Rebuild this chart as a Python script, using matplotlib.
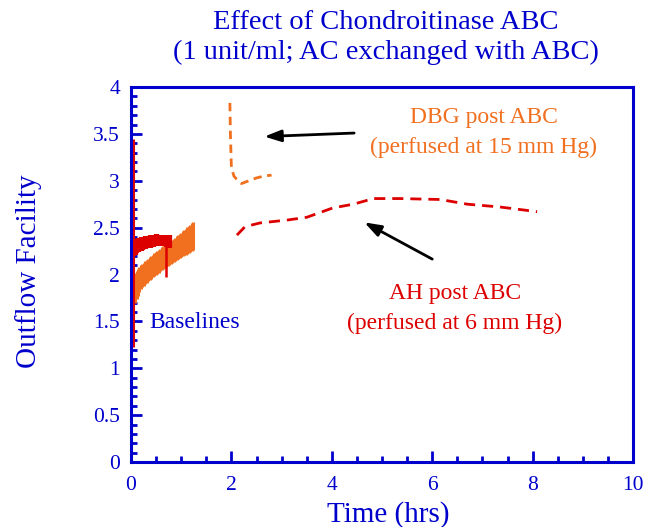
import matplotlib.pyplot as plt
import numpy as np

plt.rcParams['font.family'] = ['Liberation Serif', 'DejaVu Serif']

blue = '#0000cc'
orange = '#f07020'
red = '#dd0000'

# baseline bands (lower / upper edge of the scatter)
orange_base_t = [0.08, 0.2, 0.35, 0.5, 0.71, 0.9, 1.05, 1.24]
orange_base_lo = [1.70, 1.85, 1.93, 2.0, 2.08, 2.15, 2.2, 2.26]
orange_base_hi = [2.02, 2.1, 2.17, 2.24, 2.33, 2.4, 2.47, 2.56]

red_base_t = [0.08, 0.2, 0.35, 0.5, 0.65, 0.8]
red_base_lo = [2.2, 2.25, 2.28, 2.3, 2.3, 2.28]
red_base_hi = [2.38, 2.4, 2.42, 2.43, 2.42, 2.42]

# DBG post ABC
dbg_t = [1.97, 1.98, 2.0, 2.05, 2.13, 2.2, 2.35, 2.5, 2.65, 2.8]
dbg_v = [3.83, 3.5, 3.14, 3.05, 3.0, 2.97, 3.0, 3.03, 3.05, 3.06]

# AH post ABC
ah_t = [2.11, 2.27, 2.57, 3.1, 3.5, 4.02, 4.43, 4.83, 5.36, 6.16, 6.7, 7.35, 8.09]
ah_v = [2.42, 2.51, 2.55, 2.58, 2.61, 2.71, 2.75, 2.81, 2.81, 2.80, 2.75, 2.72, 2.67]

fig = plt.figure(figsize=(6.56, 5.27), dpi=100)
ax = fig.add_axes([131 / 656, 65 / 527, 502 / 656, 375 / 527])

# baselines
ot = np.linspace(orange_base_t[0], orange_base_t[-1], 40)
ax.vlines(ot, np.interp(ot, orange_base_t, orange_base_lo),
          np.interp(ot, orange_base_t, orange_base_hi), color=orange, lw=2.2)
ax.vlines(0.04, 1.27, 2.2, color=orange, lw=2)
rt = np.linspace(red_base_t[0], red_base_t[-1], 25)
ax.vlines(rt, np.interp(rt, red_base_t, red_base_lo),
          np.interp(rt, red_base_t, red_base_hi), color=red, lw=1.6)
ax.vlines(0.03, 1.23, 3.45, color=red, lw=2.2)
ax.vlines(0.7, 1.97, 2.38, color=red, lw=1.8)

ax.plot(dbg_t, dbg_v, color=orange, lw=2, ls=(0, (3, 2)))
ax.plot(ah_t, ah_v, color=red, lw=2, ls=(0, (4, 2.5)))

ax.set_xlim(0, 10)
ax.set_ylim(0, 4)
ax.set_xticks(range(0, 11, 2))
ax.set_xticks(np.arange(0, 10.01, 0.5), minor=True)
ax.set_yticks(np.arange(0, 4.01, 0.5))
ax.set_yticklabels(['0', '0.5', '1', '1.5', '2', '2.5', '3', '3.5', '4'])
ax.set_yticks(np.arange(0, 4.01, 0.1), minor=True)
ax.tick_params(which='both', direction='in', color=blue, labelcolor=blue,
               labelsize=15.5, width=2)
ax.tick_params(which='major', length=8)
ax.tick_params(which='minor', length=4)
ax.tick_params(axis='x', pad=10)
ax.tick_params(axis='y', pad=8)
for s in ax.spines.values():
    s.set_color(blue)
    s.set_linewidth(2.2)

ax.set_xlabel('Time (hrs)', color=blue, fontsize=21)
ax.xaxis.set_label_coords(0.512, -0.105)
ax.set_ylabel('Outflow Facility', color=blue, fontsize=21)
ax.yaxis.set_label_coords(-0.177, 0.51)

fig.text(0.588, 0.958, 'Effect of Chondroitinase ABC', color=blue,
         fontsize=20.5, ha='center', va='center')
fig.text(0.588, 0.901, '(1 unit/ml; AC exchanged with ABC)', color=blue,
         fontsize=20.5, ha='center', va='center')

ax.text(0.36, 1.49, 'Baselines', color=blue, fontsize=17, va='center')
ax.text(7.03, 3.67, 'DBG post ABC', color=orange, fontsize=17, ha='center', va='center')
ax.text(7.03, 3.36, '(perfused at 15 mm Hg)', color=orange, fontsize=17, ha='center', va='center')
ax.text(6.45, 1.80, 'AH post ABC', color=red, fontsize=17, ha='center', va='center')
ax.text(6.45, 1.48, '(perfused at 6 mm Hg)', color=red, fontsize=17, ha='center', va='center')

ax.annotate('', xy=(2.6, 3.47), xytext=(4.5, 3.51),
            arrowprops=dict(arrowstyle='-|>,head_length=1.0,head_width=0.35',
                            color='black', lw=2))
ax.annotate('', xy=(4.6, 2.57), xytext=(6.05, 2.15),
            arrowprops=dict(arrowstyle='-|>,head_length=1.0,head_width=0.35',
                            color='black', lw=2))

fig.savefig('out.png', dpi=100)
